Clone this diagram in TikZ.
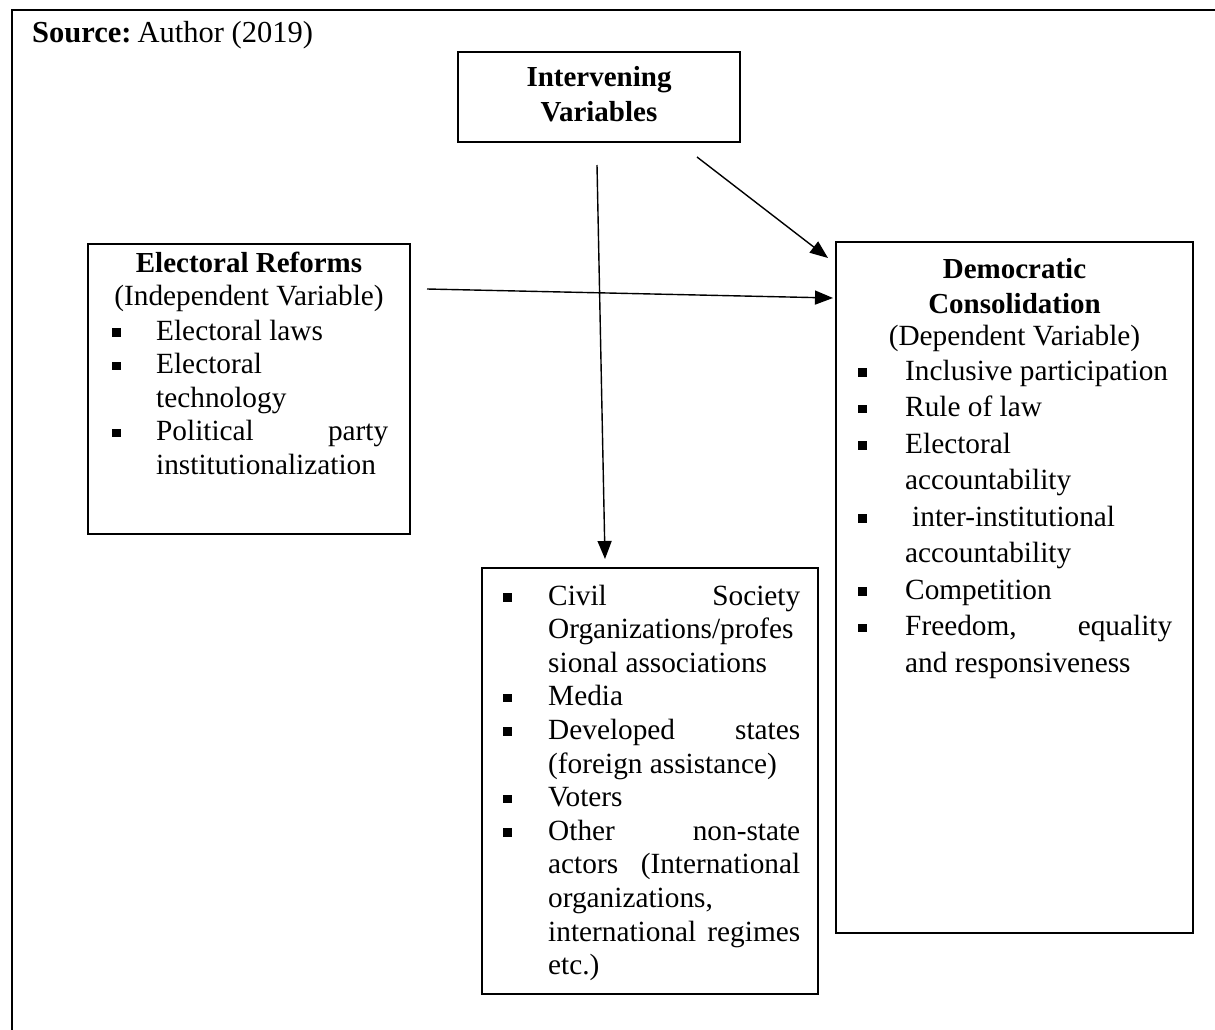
\documentclass[tikz,border=0pt]{standalone}
\usepackage{fontspec}
\setmainfont{Liberation Serif}
\usepackage{array}
\usetikzlibrary{arrows.meta}
\newcommand{\sqb}{\raisebox{3.5pt}{\rule{8.5pt}{8.5pt}}}
\tikzset{
  box/.style={draw, line width=1.3pt, inner sep=0pt, rectangle},
  body/.style={inner sep=0pt, font=\fontsize{29.3}{33.6}\selectfont},
  dbody/.style={inner sep=0pt, font=\fontsize{29.3}{36.5}\selectfont},
  head/.style={inner sep=0pt, anchor=base, font=\fontsize{29}{33}\selectfont\bfseries},
  sub/.style={inner sep=0pt, anchor=base, font=\fontsize{29.3}{33}\selectfont},
  conn/.style={line width=1.4pt, -{Triangle[length=18pt,width=14pt]}},
}
\begin{document}
\begin{tikzpicture}[x=1pt,y=-1pt]
\useasboundingbox (0,0) rectangle (1215,1030);
% outer frame
\draw[line width=1.6pt] (12,1030) -- (12,10) -- (1215,10);
% source
\node[inner sep=0pt, anchor=base west, font=\fontsize{30.5}{33}\selectfont] (src) at (32,43) {\textbf{Source:}\hspace{6pt}Author (2019)};
% boxes
\node[box, minimum width=282pt, minimum height=90pt] (iv) at (599,97) {};
\node[box, minimum width=322pt, minimum height=290pt] (er) at (249,389) {};
\node[box, minimum width=357pt, minimum height=691pt] (dc) at (1014.5,587.5) {};
\node[box, minimum width=336pt, minimum height=426pt] (oth) at (650,781) {};
% intervening text
\node[head] (iv1) at (599,87) {Intervening};
\node[head] (iv2) at (599,122) {Variables};
% electoral reforms text
\node[head] (er1) at (249,272) {Electoral Reforms};
\node[sub] (er2) at (249,305) {(Independent Variable)};
\node[body, anchor=base west] (erl) at (112,340) {%
\begin{tabular}[t]{@{}p{44pt}@{}l@{}}
\sqb & Electoral laws\\
\sqb & Electoral\\
 & technology\\
\sqb & \makebox[232pt][s]{Political party}\\
 & institutionalization
\end{tabular}};
% democratic consolidation text
\node[head] (dc1) at (1014.5,278) {Democratic};
\node[head] (dc2) at (1014.5,313) {Consolidation};
\node[sub] (dc3) at (1014.5,345) {(Dependent Variable)};
\node[dbody, anchor=base west] (dcl) at (858,380) {%
\begin{tabular}[t]{@{}p{47pt}@{}l@{}}
\sqb & Inclusive participation\\
\sqb & Rule of law\\
\sqb & Electoral\\
 & accountability\\
\sqb & \hspace{7pt}inter-institutional\\
 & accountability\\
\sqb & Competition\\
\sqb & \makebox[267pt][s]{Freedom, equality}\\
 & and responsiveness
\end{tabular}};
% other actors text
\node[body, anchor=base west] (othl) at (503,605) {%
\begin{tabular}[t]{@{}p{45pt}@{}l@{}}
\sqb & \makebox[252pt][s]{Civil Society}\\
 & Organizations/profes\\
 & sional associations\\
\sqb & Media\\
\sqb & \makebox[252pt][s]{Developed states}\\
 & (foreign assistance)\\
\sqb & Voters\\
\sqb & \makebox[252pt][s]{Other non-state}\\
 & \makebox[252pt][s]{actors (International}\\
 & organizations,\\
 & \makebox[252pt][s]{international regimes}\\
 & etc.)
\end{tabular}};
% connector end points
\coordinate (a1s) at (597,165);
\coordinate (a1e) at (605,559);
\coordinate (a2s) at (697,157);
\coordinate (a2e) at (828,258);
\coordinate (a3s) at (427,289);
\coordinate (a3e) at (833,298);
\draw[conn] (a1s) -- (a1e);
\draw[conn] (a2s) -- (a2e);
\draw[conn] (a3s) -- (a3e);
\end{tikzpicture}
\end{document}
